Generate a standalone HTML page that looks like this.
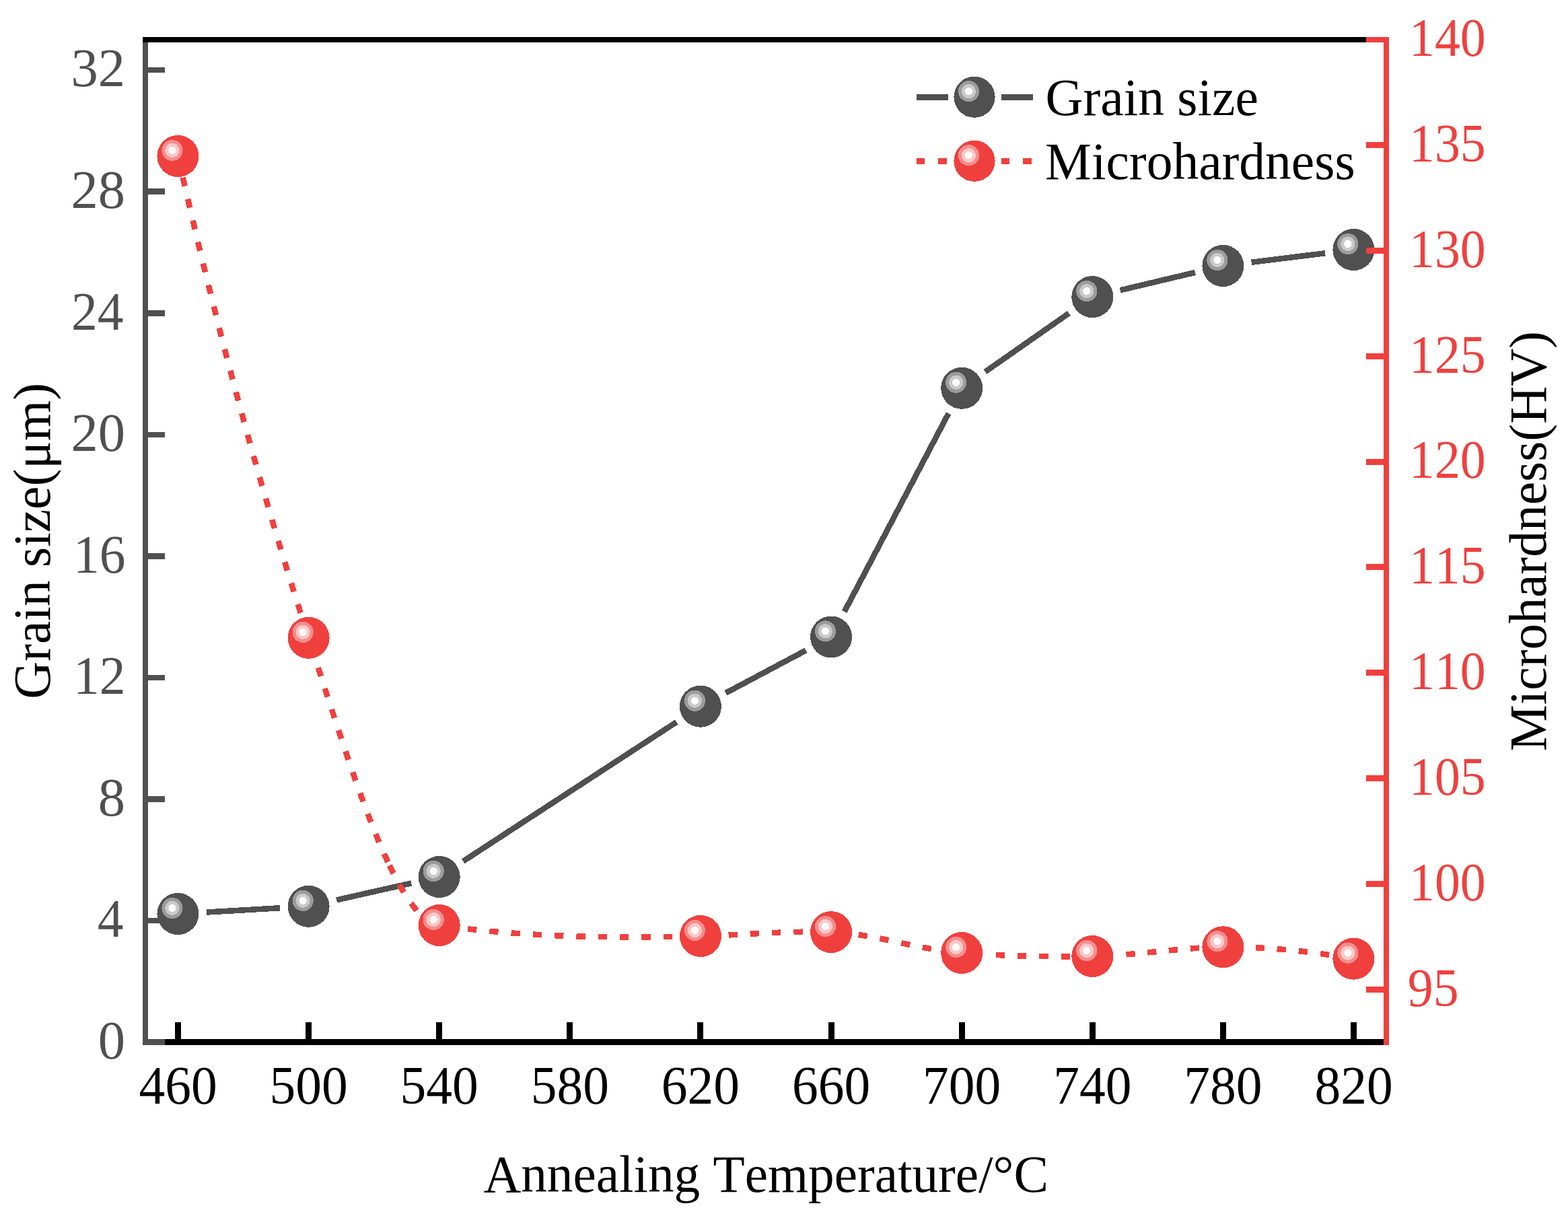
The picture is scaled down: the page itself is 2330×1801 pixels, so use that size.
<!DOCTYPE html>
<html lang="en">
<head>
<meta charset="utf-8">
<title>Grain size and microhardness vs annealing temperature</title>
<style>
html,body{margin:0;padding:0;background:#fff;}
body{width:2330px;height:1801px;overflow:hidden;}
svg{display:block;}
text{font-family:"Liberation Serif", "Times New Roman", Times, serif;font-size:77.5px;font-kerning:none;font-variant-ligatures:none;}
text.ttl{font-size:77.5px;}
.crisp{shape-rendering:crispEdges;}
</style>
</head>
<body>
<svg width="2330" height="1801" viewBox="0 0 2330 1801">
<rect x="0" y="0" width="2330" height="1801" fill="#ffffff"/>
<g id="layer-grain">
<g class="crisp" stroke="#505050" stroke-width="8.5" fill="none" stroke-linecap="butt">
<line x1="306.88" y1="1355.55" x2="416.17" y2="1349.25"/>
<line x1="500.06" y1="1337.44" x2="611.24" y2="1312.36"/>
<line x1="688.29" y1="1279.78" x2="1005.36" y2="1072.92"/>
<line x1="1078.48" y1="1029.75" x2="1197.52" y2="966.45"/>
<line x1="1254.81" y1="908.87" x2="1409.44" y2="614.43"/>
<line x1="1464.03" y1="552.45" x2="1588.47" y2="465.45"/>
<line x1="1664.65" y1="431.28" x2="1776.05" y2="404.82"/>
<line x1="1859.58" y1="389.78" x2="1969.22" y2="376.22"/>
</g>
<g class="crisp">
<rect x="212" y="55" width="8" height="1498" fill="#505050"/>
<rect x="212" y="1544" width="1852" height="9" fill="#000"/>
<rect x="212" y="55" width="1852" height="8" fill="#000"/>
<rect x="260" y="1519" width="9" height="25" fill="#000"/>
<rect x="454.11" y="1519" width="9" height="25" fill="#000"/>
<rect x="648.22" y="1519" width="9" height="25" fill="#000"/>
<rect x="842.33" y="1519" width="9" height="25" fill="#000"/>
<rect x="1036.44" y="1519" width="9" height="25" fill="#000"/>
<rect x="1230.55" y="1519" width="9" height="25" fill="#000"/>
<rect x="1424.67" y="1519" width="9" height="25" fill="#000"/>
<rect x="1618.78" y="1519" width="9" height="25" fill="#000"/>
<rect x="1812.89" y="1519" width="9" height="25" fill="#000"/>
<rect x="2007" y="1519" width="9" height="25" fill="#000"/>
<rect x="212" y="1544" width="33" height="9" fill="#505050"/>
<rect x="220" y="1363.71" width="25" height="8.5" fill="#505050"/>
<rect x="220" y="1183.17" width="25" height="8.5" fill="#505050"/>
<rect x="220" y="1002.63" width="25" height="8.5" fill="#505050"/>
<rect x="220" y="822.09" width="25" height="8.5" fill="#505050"/>
<rect x="220" y="641.55" width="25" height="8.5" fill="#505050"/>
<rect x="220" y="461.01" width="25" height="8.5" fill="#505050"/>
<rect x="220" y="280.47" width="25" height="8.5" fill="#505050"/>
<rect x="220" y="99.93" width="25" height="8.5" fill="#505050"/>
</g>
<g class="crisp"><circle cx="264.45" cy="1358" r="31.02" fill="#505050"/><circle cx="255.95" cy="1349.5" r="15.6" fill="#9c9c9c"/><circle cx="255.95" cy="1349.5" r="10.6" fill="#cacaca"/><circle cx="255.95" cy="1349.5" r="5.6" fill="#fcfcfc"/></g>
<g class="crisp"><circle cx="458.6" cy="1346.8" r="31.02" fill="#505050"/><circle cx="450.1" cy="1338.3" r="15.6" fill="#9c9c9c"/><circle cx="450.1" cy="1338.3" r="10.6" fill="#cacaca"/><circle cx="450.1" cy="1338.3" r="5.6" fill="#fcfcfc"/></g>
<g class="crisp"><circle cx="652.7" cy="1303" r="31.02" fill="#505050"/><circle cx="644.2" cy="1294.5" r="15.6" fill="#9c9c9c"/><circle cx="644.2" cy="1294.5" r="10.6" fill="#cacaca"/><circle cx="644.2" cy="1294.5" r="5.6" fill="#fcfcfc"/></g>
<g class="crisp"><circle cx="1040.95" cy="1049.7" r="31.02" fill="#505050"/><circle cx="1032.45" cy="1041.2" r="15.6" fill="#9c9c9c"/><circle cx="1032.45" cy="1041.2" r="10.6" fill="#cacaca"/><circle cx="1032.45" cy="1041.2" r="5.6" fill="#fcfcfc"/></g>
<g class="crisp"><circle cx="1235.05" cy="946.5" r="31.02" fill="#505050"/><circle cx="1226.55" cy="938" r="15.6" fill="#9c9c9c"/><circle cx="1226.55" cy="938" r="10.6" fill="#cacaca"/><circle cx="1226.55" cy="938" r="5.6" fill="#fcfcfc"/></g>
<g class="crisp"><circle cx="1429.2" cy="576.8" r="31.02" fill="#505050"/><circle cx="1420.7" cy="568.3" r="15.6" fill="#9c9c9c"/><circle cx="1420.7" cy="568.3" r="10.6" fill="#cacaca"/><circle cx="1420.7" cy="568.3" r="5.6" fill="#fcfcfc"/></g>
<g class="crisp"><circle cx="1623.3" cy="441.1" r="31.02" fill="#505050"/><circle cx="1614.8" cy="432.6" r="15.6" fill="#9c9c9c"/><circle cx="1614.8" cy="432.6" r="10.6" fill="#cacaca"/><circle cx="1614.8" cy="432.6" r="5.6" fill="#fcfcfc"/></g>
<g class="crisp"><circle cx="1817.4" cy="395" r="31.02" fill="#505050"/><circle cx="1808.9" cy="386.5" r="15.6" fill="#9c9c9c"/><circle cx="1808.9" cy="386.5" r="10.6" fill="#cacaca"/><circle cx="1808.9" cy="386.5" r="5.6" fill="#fcfcfc"/></g>
<g class="crisp"><circle cx="2011.4" cy="371" r="31.02" fill="#505050"/><circle cx="2002.9" cy="362.5" r="15.6" fill="#9c9c9c"/><circle cx="2002.9" cy="362.5" r="10.6" fill="#cacaca"/><circle cx="2002.9" cy="362.5" r="5.6" fill="#fcfcfc"/></g>
</g>
<g id="layer-hardness">
<path class="crisp" d="M271.67 263.74 L272.66 268.06 L273.65 272.38 L274.65 276.7 M279.06 295.75 L280.06 300.07 L281.07 304.38 L282.08 308.7 M286.55 327.73 L287.57 332.05 L288.59 336.36 L289.62 340.67 M294.16 359.69 L295.19 364 L296.23 368.31 L297.27 372.62 M301.87 391.62 L302.92 395.93 L303.98 400.23 L305.03 404.54 M309.71 423.52 L310.77 427.83 L311.84 432.13 L312.91 436.43 M317.65 455.4 L318.74 459.7 L319.82 463.99 L320.91 468.29 M325.72 487.24 L326.82 491.54 L327.92 495.83 L329.02 500.12 M333.91 519.05 L335.03 523.34 L336.15 527.63 L337.27 531.92 M342.23 550.83 L343.36 555.12 L344.5 559.4 L345.63 563.69 M350.67 582.58 L351.82 586.86 L352.97 591.14 L354.13 595.42 M359.25 614.29 L360.41 618.57 L361.58 622.84 L362.76 627.12 M367.95 645.97 L369.14 650.24 L370.33 654.51 L371.52 658.78 M376.79 677.6 L378 681.87 L379.2 686.14 L380.41 690.4 M385.77 709.2 L386.99 713.46 L388.22 717.72 L389.45 721.98 M394.89 740.76 L396.13 745.02 L397.37 749.27 L398.62 753.53 M404.15 772.28 L405.41 776.53 L406.67 780.78 L407.94 785.03 M413.55 803.76 L414.83 808 L416.11 812.24 L417.39 816.49 M423.09 835.19 L424.39 839.43 L425.69 843.67 L427 847.9 M432.78 866.58 L434.1 870.81 L435.42 875.04 L436.75 879.27 M442.62 897.92 L443.96 902.15 L445.3 906.37 L446.64 910.6 M472.93 992.19 L474.29 996.41 L475.65 1000.63 L477.01 1004.85 M482.84 1022.94 L484.2 1027.16 L485.56 1031.38 L486.92 1035.59 M492.9 1054.05 L494.27 1058.27 L495.65 1062.48 L497.02 1066.7 M503.07 1085.13 L504.46 1089.34 L505.86 1093.55 L507.25 1097.75 M513.5 1116.44 L514.92 1120.64 L516.34 1124.84 L517.77 1129.03 M524.14 1147.57 L525.6 1151.76 L527.06 1155.94 L528.53 1160.12 M535.12 1178.58 L536.63 1182.75 L538.15 1186.92 L539.68 1191.08 M546.51 1209.34 L548.1 1213.48 L549.69 1217.62 L551.3 1221.75 M558.26 1239.21 L559.94 1243.32 L561.64 1247.41 L563.35 1251.5 M570.82 1268.75 L572.63 1272.8 L574.47 1276.83 L576.33 1280.86 M578.77 1286.01 L580.69 1290 L582.64 1293.98 L584.63 1297.95 M593.34 1314.38 L595.52 1318.24 L597.75 1322.07 L600.04 1325.87 M610.99 1342.36 L613.64 1345.91 L616.39 1349.39 L619.24 1352.78 M695.11 1380.36 L699.52 1380.85 L703.92 1381.33 L708.33 1381.8 M727.29 1383.67 L731.71 1384.08 L736.12 1384.47 L740.54 1384.85 M759.53 1386.38 L763.95 1386.7 L768.37 1387.02 L772.79 1387.33 M791.81 1388.53 L796.23 1388.78 L800.66 1389.02 L805.09 1389.26 M824.11 1390.16 L828.54 1390.34 L832.97 1390.52 L837.4 1390.69 M856.44 1391.31 L860.87 1391.43 L865.31 1391.55 L869.74 1391.66 M888.78 1392.03 L893.22 1392.1 L897.65 1392.16 L902.08 1392.22 M921.13 1392.37 L925.57 1392.39 L930 1392.4 L934.43 1392.41 M953.48 1392.37 L957.92 1392.34 L962.35 1392.31 L966.78 1392.28 M985.83 1392.07 L990.26 1392 L994.7 1391.94 L999.13 1391.87 M1082.57 1389.42 L1087 1389.2 L1091.42 1388.98 L1095.85 1388.76 M1114.63 1387.78 L1119.05 1387.54 L1123.48 1387.31 L1127.91 1387.09 M1146.99 1386.16 L1151.42 1385.97 L1155.85 1385.78 L1160.27 1385.6 M1179.46 1384.98 L1183.9 1384.88 L1188.33 1384.79 L1192.76 1384.71 M1275.69 1389.03 L1280.07 1389.7 L1284.45 1390.4 L1288.82 1391.14 M1307.4 1394.6 L1311.75 1395.47 L1316.09 1396.35 L1320.43 1397.24 M1339.22 1401.21 L1343.56 1402.13 L1347.9 1403.05 L1352.23 1403.96 M1370.76 1407.71 L1375.11 1408.54 L1379.47 1409.35 L1383.83 1410.13 M1479.86 1418.98 L1484.29 1419.18 L1488.72 1419.37 L1493.15 1419.56 M1512.04 1420.25 L1516.47 1420.38 L1520.9 1420.51 L1525.33 1420.63 M1544.43 1421.04 L1548.86 1421.11 L1553.29 1421.18 L1557.72 1421.23 M1576.82 1421.36 L1581.26 1421.37 L1585.69 1421.37 L1590.12 1421.36 M1673.47 1418.33 L1677.89 1417.96 L1682.31 1417.59 L1686.72 1417.19 M1705.14 1415.46 L1709.55 1415.03 L1713.97 1414.6 L1718.38 1414.16 M1736.69 1412.37 L1741.1 1411.95 L1745.52 1411.54 L1749.93 1411.14 M1768.77 1409.57 L1773.19 1409.24 L1777.61 1408.94 L1782.04 1408.65 M1865.94 1408.18 L1870.36 1408.39 L1874.79 1408.63 L1879.22 1408.88 M1897.57 1410.15 L1901.99 1410.5 L1906.41 1410.87 L1910.83 1411.27 M1929.73 1413.15 L1934.14 1413.63 L1938.54 1414.13 L1942.95 1414.65 M1962.09 1417.08 L1966.49 1417.68 L1970.88 1418.29 L1975.27 1418.92" stroke="#f0403e" stroke-width="8.5" fill="none" stroke-linecap="butt"/>
<g class="crisp">
<rect x="2056" y="55" width="8" height="1498" fill="#f0403e"/>
<rect x="2030" y="1466" width="26" height="9" fill="#f0403e"/>
<rect x="2030" y="1309" width="26" height="9" fill="#f0403e"/>
<rect x="2030" y="1152" width="26" height="9" fill="#f0403e"/>
<rect x="2030" y="995" width="26" height="9" fill="#f0403e"/>
<rect x="2030" y="838" width="26" height="9" fill="#f0403e"/>
<rect x="2030" y="682" width="26" height="9" fill="#f0403e"/>
<rect x="2030" y="525" width="26" height="9" fill="#f0403e"/>
<rect x="2030" y="368" width="26" height="9" fill="#f0403e"/>
<rect x="2030" y="211" width="26" height="9" fill="#f0403e"/>
<rect x="2030" y="55" width="34" height="8" fill="#f0403e"/>
</g>
<g class="crisp"><circle cx="264.45" cy="232" r="31.02" fill="#f0403e"/><circle cx="255.95" cy="223.5" r="15.6" fill="#f68e8d"/><circle cx="255.95" cy="223.5" r="10.6" fill="#fbc9c8"/><circle cx="255.95" cy="223.5" r="5.6" fill="#fffafa"/></g>
<g class="crisp"><circle cx="458.6" cy="947.8" r="31.02" fill="#f0403e"/><circle cx="450.1" cy="939.3" r="15.6" fill="#f68e8d"/><circle cx="450.1" cy="939.3" r="10.6" fill="#fbc9c8"/><circle cx="450.1" cy="939.3" r="5.6" fill="#fffafa"/></g>
<g class="crisp"><circle cx="652.7" cy="1375" r="31.02" fill="#f0403e"/><circle cx="644.2" cy="1366.5" r="15.6" fill="#f68e8d"/><circle cx="644.2" cy="1366.5" r="10.6" fill="#fbc9c8"/><circle cx="644.2" cy="1366.5" r="5.6" fill="#fffafa"/></g>
<g class="crisp"><circle cx="1040.95" cy="1391" r="31.02" fill="#f0403e"/><circle cx="1032.45" cy="1382.5" r="15.6" fill="#f68e8d"/><circle cx="1032.45" cy="1382.5" r="10.6" fill="#fbc9c8"/><circle cx="1032.45" cy="1382.5" r="5.6" fill="#fffafa"/></g>
<g class="crisp"><circle cx="1235.05" cy="1385.1" r="31.02" fill="#f0403e"/><circle cx="1226.55" cy="1376.6" r="15.6" fill="#f68e8d"/><circle cx="1226.55" cy="1376.6" r="10.6" fill="#fbc9c8"/><circle cx="1226.55" cy="1376.6" r="5.6" fill="#fffafa"/></g>
<g class="crisp"><circle cx="1429.2" cy="1416" r="31.02" fill="#f0403e"/><circle cx="1420.7" cy="1407.5" r="15.6" fill="#f68e8d"/><circle cx="1420.7" cy="1407.5" r="10.6" fill="#fbc9c8"/><circle cx="1420.7" cy="1407.5" r="5.6" fill="#fffafa"/></g>
<g class="crisp"><circle cx="1623.3" cy="1421" r="31.02" fill="#f0403e"/><circle cx="1614.8" cy="1412.5" r="15.6" fill="#f68e8d"/><circle cx="1614.8" cy="1412.5" r="10.6" fill="#fbc9c8"/><circle cx="1614.8" cy="1412.5" r="5.6" fill="#fffafa"/></g>
<g class="crisp"><circle cx="1817.4" cy="1407.3" r="31.02" fill="#f0403e"/><circle cx="1808.9" cy="1398.8" r="15.6" fill="#f68e8d"/><circle cx="1808.9" cy="1398.8" r="10.6" fill="#fbc9c8"/><circle cx="1808.9" cy="1398.8" r="5.6" fill="#fffafa"/></g>
<g class="crisp"><circle cx="2011.4" cy="1424.6" r="31.02" fill="#f0403e"/><circle cx="2002.9" cy="1416.1" r="15.6" fill="#f68e8d"/><circle cx="2002.9" cy="1416.1" r="10.6" fill="#fbc9c8"/><circle cx="2002.9" cy="1416.1" r="5.6" fill="#fffafa"/></g>
</g>
<g id="labels-left" fill="#505050">
<text transform="translate(186 1572.8) scale(1.04 1.03)" text-anchor="end">0</text>
<text transform="translate(183.6 1392.26) scale(1.0 1.03)" text-anchor="end">4</text>
<text transform="translate(186 1211.72) scale(1.04 1.03)" text-anchor="end">8</text>
<text transform="translate(186.4 1031.18) scale(1.0 1.03)" text-anchor="end">12</text>
<text transform="translate(186.4 850.64) scale(1.0 1.03)" text-anchor="end">16</text>
<text transform="translate(186 670.1) scale(1.04 1.03)" text-anchor="end">20</text>
<text transform="translate(183.6 489.56) scale(1.0 1.03)" text-anchor="end">24</text>
<text transform="translate(186 309.02) scale(1.04 1.03)" text-anchor="end">28</text>
<text transform="translate(186 128.48) scale(1.04 1.03)" text-anchor="end">32</text>
</g>
<g id="labels-right" fill="#f0403e">
<text transform="translate(2091.8 1494.67) scale(0.978 1.03)" text-anchor="start">95</text>
<text transform="translate(2094 1337.83) scale(0.978 1.03)" text-anchor="start">100</text>
<text transform="translate(2094 1181) scale(0.978 1.03)" text-anchor="start">105</text>
<text transform="translate(2094 1024.16) scale(0.978 1.03)" text-anchor="start">110</text>
<text transform="translate(2094 867.33) scale(0.978 1.03)" text-anchor="start">115</text>
<text transform="translate(2094 710.49) scale(0.978 1.03)" text-anchor="start">120</text>
<text transform="translate(2094 553.65) scale(0.978 1.03)" text-anchor="start">125</text>
<text transform="translate(2094 396.82) scale(0.978 1.03)" text-anchor="start">130</text>
<text transform="translate(2094 239.99) scale(0.978 1.03)" text-anchor="start">135</text>
<text transform="translate(2094 83.15) scale(0.978 1.03)" text-anchor="start">140</text>
</g>
<g id="labels-bottom" fill="#000">
<text transform="translate(264.5 1640.2) scale(1.0 1.03)" text-anchor="middle">460</text>
<text transform="translate(458.61 1640.2) scale(1.0 1.03)" text-anchor="middle">500</text>
<text transform="translate(652.72 1640.2) scale(1.0 1.03)" text-anchor="middle">540</text>
<text transform="translate(846.83 1640.2) scale(1.0 1.03)" text-anchor="middle">580</text>
<text transform="translate(1040.94 1640.2) scale(1.0 1.03)" text-anchor="middle">620</text>
<text transform="translate(1235.05 1640.2) scale(1.0 1.03)" text-anchor="middle">660</text>
<text transform="translate(1429.17 1640.2) scale(1.0 1.03)" text-anchor="middle">700</text>
<text transform="translate(1623.28 1640.2) scale(1.0 1.03)" text-anchor="middle">740</text>
<text transform="translate(1817.39 1640.2) scale(1.0 1.03)" text-anchor="middle">780</text>
<text transform="translate(2011.5 1640.2) scale(1.0 1.03)" text-anchor="middle">820</text>
</g>
<g id="titles" fill="#000">
<text class="ttl" style="font-size:77.25px" x="1138.2" y="1771" text-anchor="middle">Annealing Temperature/°C</text>
<text class="ttl" transform="translate(74 1038.8) rotate(-90)">Grain size(μm)</text>
<text class="ttl" transform="translate(2297 1116.2) rotate(-90)">Microhardness(HV)</text>
</g>
<g id="legend">
<g class="crisp">
<rect x="1362" y="140" width="47" height="9" fill="#505050"/>
<rect x="1488" y="140" width="47" height="9" fill="#505050"/>
<rect x="1362" y="235" width="12" height="9" fill="#f0403e"/>
<rect x="1394" y="235" width="13" height="9" fill="#f0403e"/>
<rect x="1488" y="235" width="12" height="9" fill="#f0403e"/>
<rect x="1520" y="235" width="13" height="9" fill="#f0403e"/>
</g>
<g class="crisp"><circle cx="1448" cy="144.25" r="30.6" fill="#505050"/><circle cx="1439.5" cy="135.75" r="15.6" fill="#9c9c9c"/><circle cx="1439.5" cy="135.75" r="10.6" fill="#cacaca"/><circle cx="1439.5" cy="135.75" r="5.6" fill="#fcfcfc"/></g>
<g class="crisp"><circle cx="1448" cy="239.25" r="30.6" fill="#f0403e"/><circle cx="1439.5" cy="230.75" r="15.6" fill="#f68e8d"/><circle cx="1439.5" cy="230.75" r="10.6" fill="#fbc9c8"/><circle cx="1439.5" cy="230.75" r="5.6" fill="#fffafa"/></g>
<text x="1553.5" y="171" fill="#000">Grain size</text>
<text x="1553" y="266" fill="#000">Microhardness</text>
</g>
</svg>
</body>
</html>
